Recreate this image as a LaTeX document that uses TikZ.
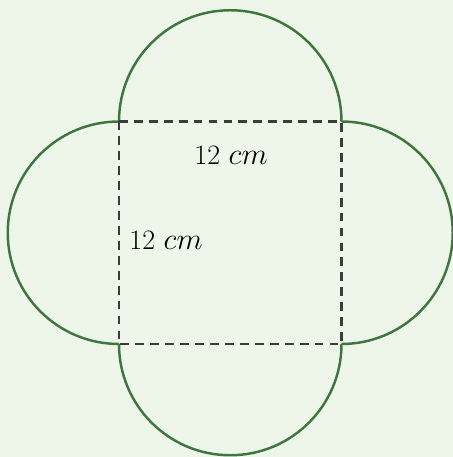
\documentclass[tikz,border=0pt]{standalone}
\usepackage{amsmath, amssymb}
\usepackage{tikz}
\usetikzlibrary{positioning}
\definecolor{paper}{RGB}{238,246,234}
\definecolor{arcgreen}{RGB}{62,118,62}
\definecolor{edgegray}{RGB}{60,60,60}
\tikzset{
  halfarc/.style={draw=arcgreen, line width=1.4pt},
  foldline/.style={draw=edgegray, line width=1.5pt, dash pattern=on 5pt off 3.5pt},
  sidelabel/.style={font=\fontsize{16}{19}\selectfont, inner sep=1pt},
}

\begin{document}
\begin{tikzpicture}
\fill[paper] (0,0) rectangle (9.06,9.14);
\useasboundingbox (0,0) rectangle (9.06,9.14);
\coordinate (sw) at (2.38,2.26);
\coordinate (se) at (6.83,2.26);
\coordinate (ne) at (6.83,6.71);
\coordinate (nw) at (2.38,6.71);
% the four half circles
\draw[halfarc] (nw) arc (180:0:2.225);
\draw[halfarc] (ne) arc (90:-90:2.225);
\draw[halfarc] (se) arc (0:-180:2.225);
\draw[halfarc] (sw) arc (270:90:2.225);
% the square
\draw[foldline] (nw) -- (ne) -- (se) -- (sw) -- cycle;
\node[sidelabel] (toplen) at (4.62,6.04) {12 $cm$};
\node[sidelabel] (leftlen) at (3.32,4.34) {12 $cm$};
\end{tikzpicture}
\end{document}
